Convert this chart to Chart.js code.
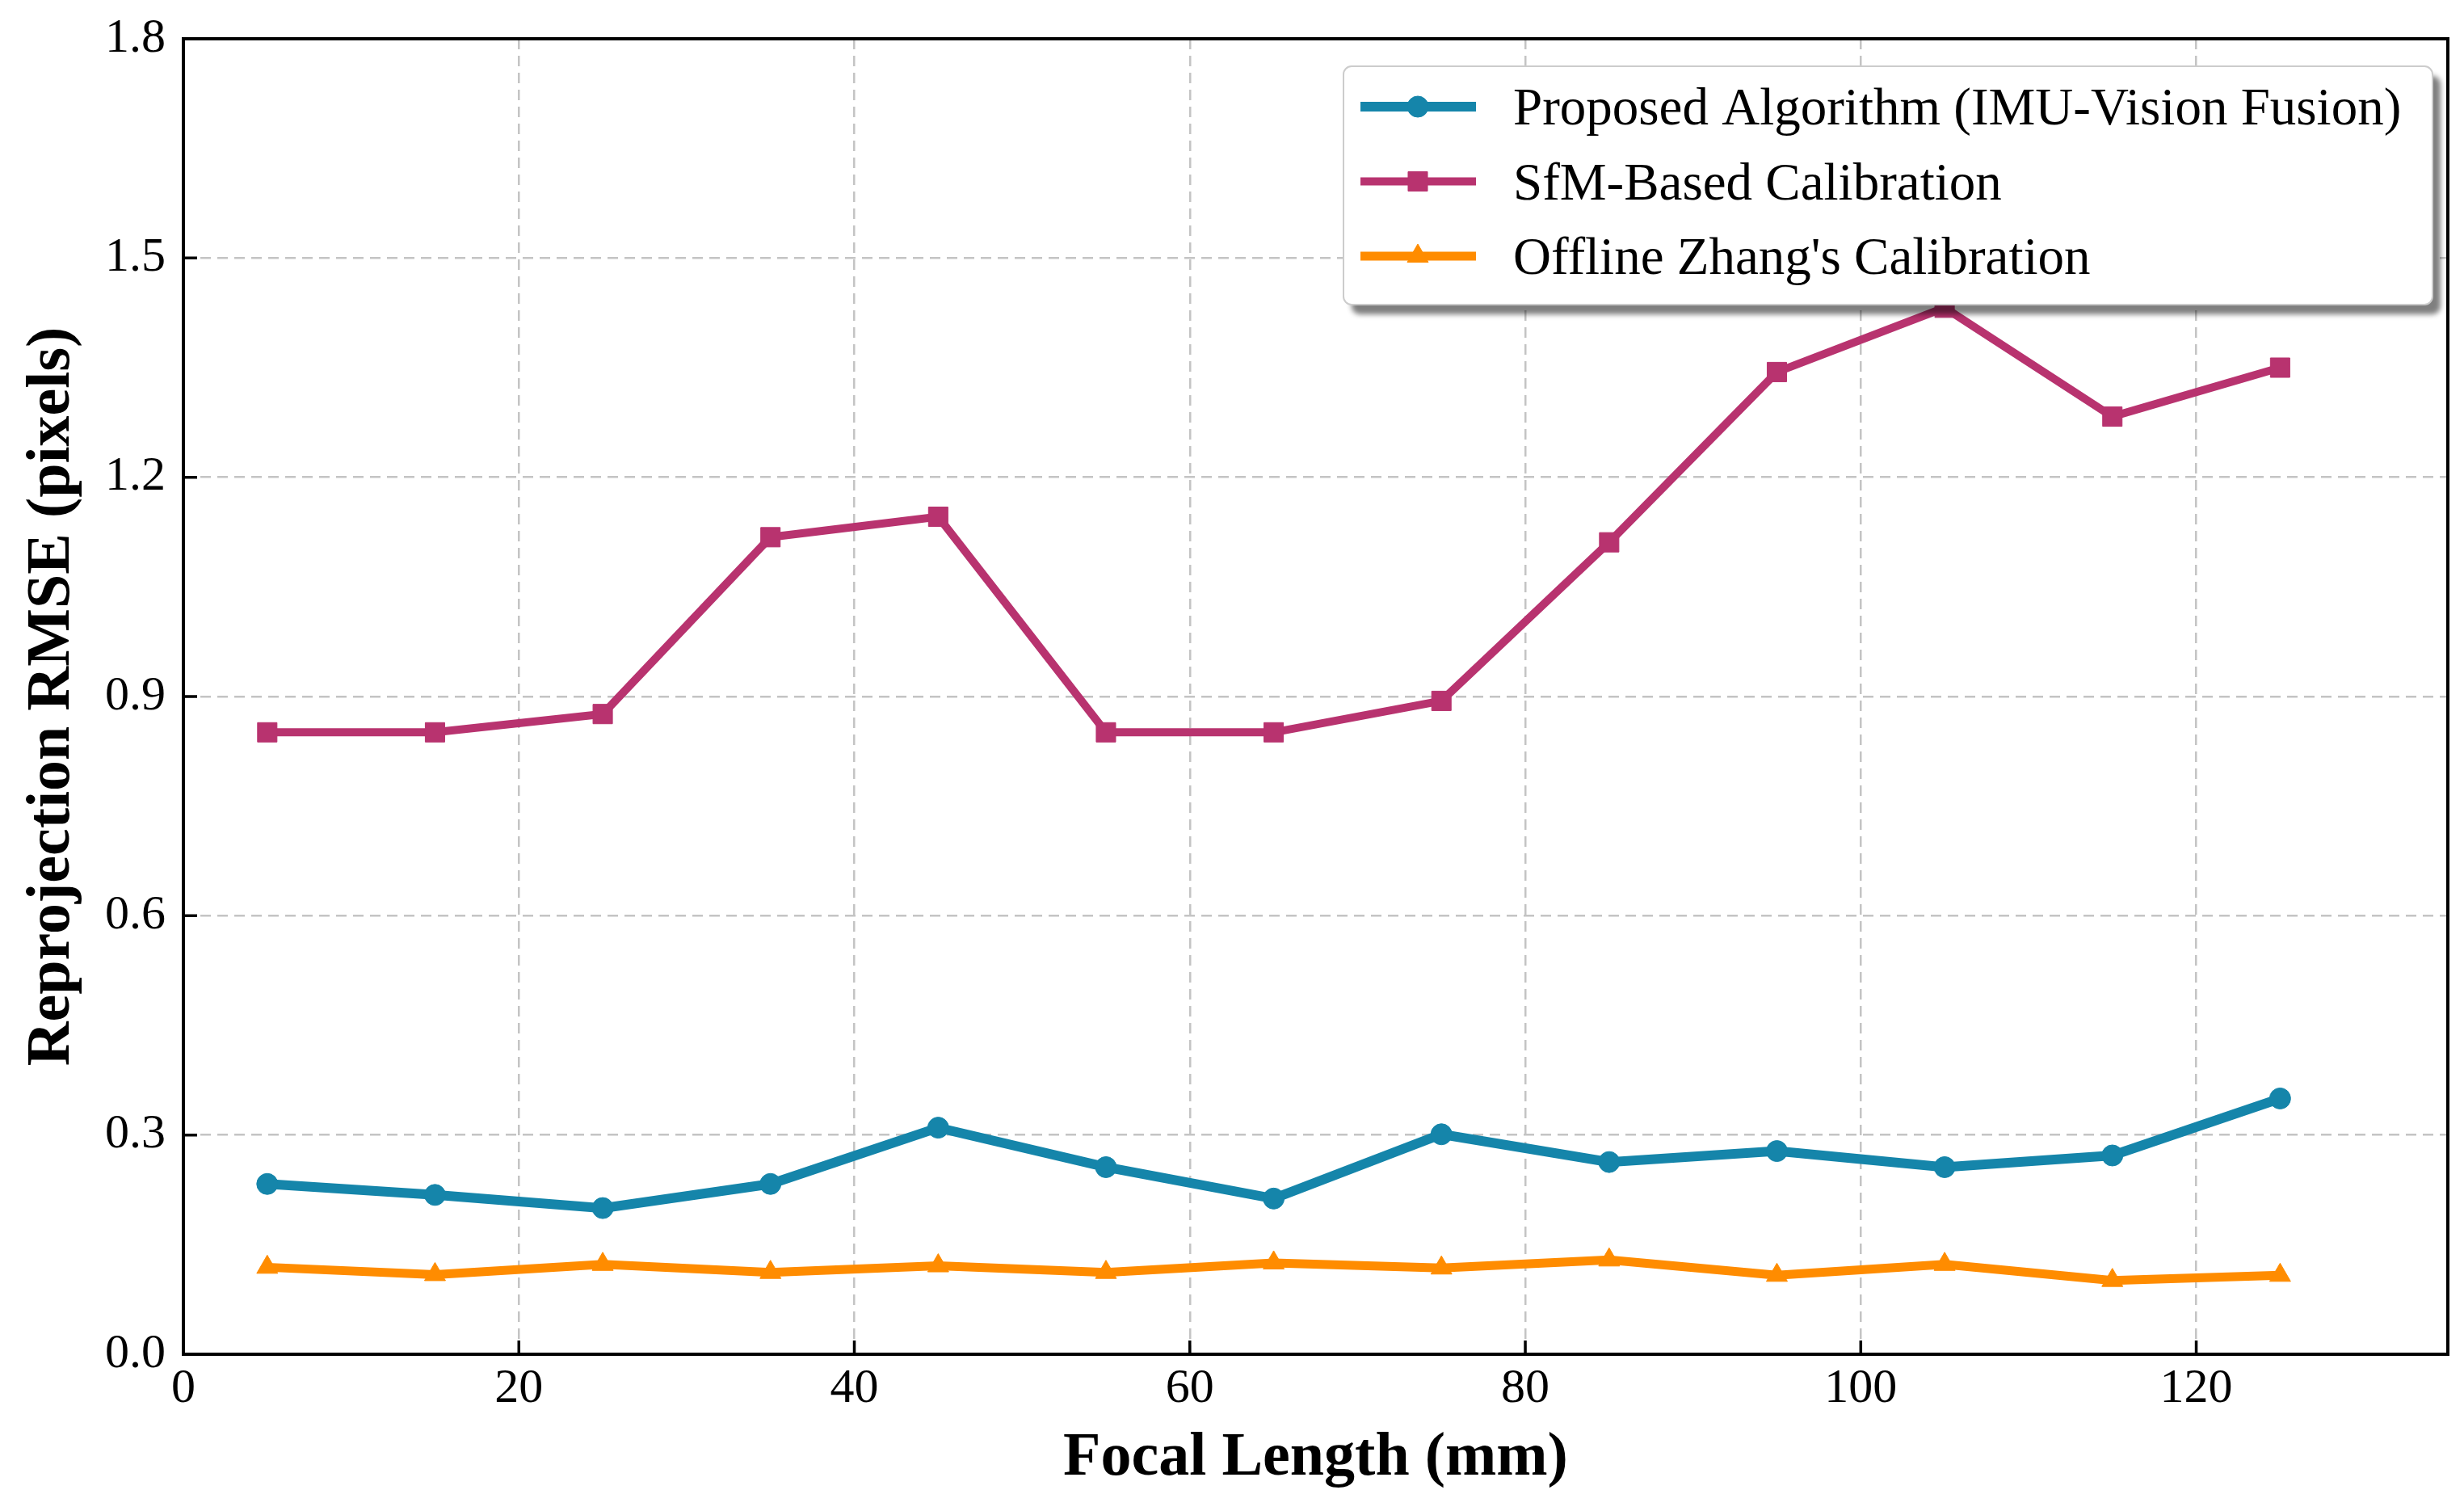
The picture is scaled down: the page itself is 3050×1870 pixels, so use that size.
<!DOCTYPE html>
<html>
<head>
<meta charset="utf-8">
<script src="https://cdn.jsdelivr.net/npm/chart.js@4.4.1/dist/chart.umd.min.js"></script>
<style>
html,body{margin:0;padding:0;background:#fff;}
#wrap{width:3050px;height:1870px;}
</style>
</head>
<body>
<div id="wrap"><canvas id="myChart" width="3050" height="1870"></canvas></div>
<script>
// focal lengths (mm) on the x axis
const focalLengths=[5,15,25,35,45,55,65,75,85,95,105,115,125];
// reprojection RMSE (pixels)
const proposedRmse=[0.233,0.218,0.200,0.233,0.310,0.256,0.213,0.301,0.263,0.278,0.256,0.272,0.350];
const sfmRmse=[0.851,0.851,0.876,1.118,1.146,0.851,0.851,0.894,1.111,1.344,1.432,1.283,1.350];
const zhangRmse=[0.119,0.109,0.123,0.112,0.121,0.112,0.125,0.118,0.129,0.108,0.123,0.101,0.108];
const seriesNames=['Proposed Algorithm (IMU-Vision Fusion)','SfM-Based Calibration',"Offline Zhang's Calibration"];
const xTicks=[0,20,40,60,80,100,120];
const yTicks=[0,0.3,0.6,0.9,1.2,1.5,1.8];

const serif="'Liberation Serif','Times New Roman',serif";
const colors=['#1585aa','#b8336f','#ff8c00'];
const styles=['circle','rect','triangle'];
const radii=[13,17,15];
const widths=[12,10,11];

function toPoints(vals){
    return focalLengths.map((f,i)=>({x:f,y:vals[i]}));
}

// frame, inward ticks and the shadowed legend (drawn over the lines)
const frameAndLegend={
    id:'frameAndLegend',
    afterDatasetsDraw(chart){
        const ctx=chart.ctx;
        const a=chart.chartArea;
        const x=chart.scales.x, y=chart.scales.y;
        ctx.save();
        ctx.setLineDash([]);
        ctx.strokeStyle='#000';
        ctx.lineWidth=4;
        ctx.strokeRect(a.left,a.top,a.right-a.left,a.bottom-a.top);
        ctx.lineWidth=3.5;
        ctx.beginPath();
        x.ticks.forEach(t=>{
            const px=x.getPixelForValue(t.value);
            ctx.moveTo(px,a.bottom);ctx.lineTo(px,a.bottom-17);
        });
        y.ticks.forEach(t=>{
            const py=y.getPixelForValue(t.value);
            ctx.moveTo(a.left,py);ctx.lineTo(a.left+17,py);
        });
        ctx.stroke();

        // legend box
        const bx=a.right-1367, by=a.top+34, bw=1348, bh=295;
        ctx.save();
        ctx.filter='blur(3px)';
        ctx.fillStyle='rgba(0,0,0,0.5)';
        ctx.beginPath();
        ctx.roundRect(bx+10,by+12,bw,bh,10);
        ctx.fill();
        ctx.restore();
        ctx.fillStyle='#fff';
        ctx.strokeStyle='#cccccc';
        ctx.lineWidth=2;
        ctx.beginPath();
        ctx.roundRect(bx,by,bw,bh,10);
        ctx.fill();
        ctx.stroke();

        chart.data.datasets.forEach((ds,i)=>{
            const cy=by+50+i*92.5;
            ctx.strokeStyle=ds.borderColor;
            ctx.lineWidth=ds.borderWidth;
            ctx.beginPath();
            ctx.moveTo(bx+21,cy);ctx.lineTo(bx+164,cy);
            ctx.stroke();
            ctx.fillStyle=ds.borderColor;
            ctx.lineWidth=1;
            Chart.helpers.drawPoint(ctx,{pointStyle:ds.pointStyle,radius:ds.pointRadius,rotation:0,borderWidth:1},bx+92,cy);
            ctx.fillStyle='#000';
            ctx.font='65px '+serif;
            ctx.textAlign='left';
            ctx.textBaseline='alphabetic';
            ctx.fillText(ds.label,bx+210,cy+22);
        });
        ctx.restore();
    }
};

const ctx=document.getElementById('myChart').getContext('2d');
const allSeries=[proposedRmse,sfmRmse,zhangRmse];

new Chart(ctx,{
    type:'line',
    data:{
        datasets:allSeries.map((vals,i)=>({
            label:seriesNames[i],
            data:toPoints(vals),
            borderColor:colors[i],
            backgroundColor:colors[i],
            borderWidth:widths[i],
            pointStyle:styles[i],
            pointRadius:radii[i],
            pointBackgroundColor:colors[i],
            pointBorderColor:colors[i],
            pointBorderWidth:1,
            tension:0,
            fill:false,
            order:3-i
        }))
    },
    options:{
        responsive:false,
        animation:false,
        devicePixelRatio:1,
        layout:{padding:{top:48,right:20,left:0,bottom:0}},
        plugins:{legend:{display:false},tooltip:{enabled:false}},
        scales:{
            x:{
                type:'linear',
                min:0,max:135,
                afterBuildTicks:s=>{s.ticks=xTicks.map(v=>({value:v}));},
                afterFit:s=>{s.height=194;s.paddingLeft=0;s.paddingRight=0;},
                grid:{color:'#c4c4c4',lineWidth:2.5,drawTicks:false},
                border:{display:false,dash:[13,8]},
                ticks:{color:'#000',padding:7,font:{family:serif,size:60},callback:v=>String(v)},
                title:{display:true,text:'Focal Length (mm)',color:'#000',
                    font:{family:serif,size:76,weight:'bold'},padding:{top:0,bottom:19}}
            },
            y:{
                min:0,max:1.8,
                afterBuildTicks:s=>{s.ticks=yTicks.map(v=>({value:v}));},
                afterFit:s=>{s.width=227;s.paddingTop=0;s.paddingBottom=0;},
                grid:{color:'#c4c4c4',lineWidth:2.5,drawTicks:false},
                border:{display:false,dash:[13,8]},
                ticks:{color:'#000',padding:22,font:{family:serif,size:60},callback:v=>v.toFixed(1)},
                title:{display:true,text:'Reprojection RMSE (pixels)',color:'#000',
                    font:{family:serif,size:76,weight:'bold'},padding:{top:20,bottom:0}}
            }
        }
    },
    plugins:[frameAndLegend]
});
</script>
</body>
</html>
